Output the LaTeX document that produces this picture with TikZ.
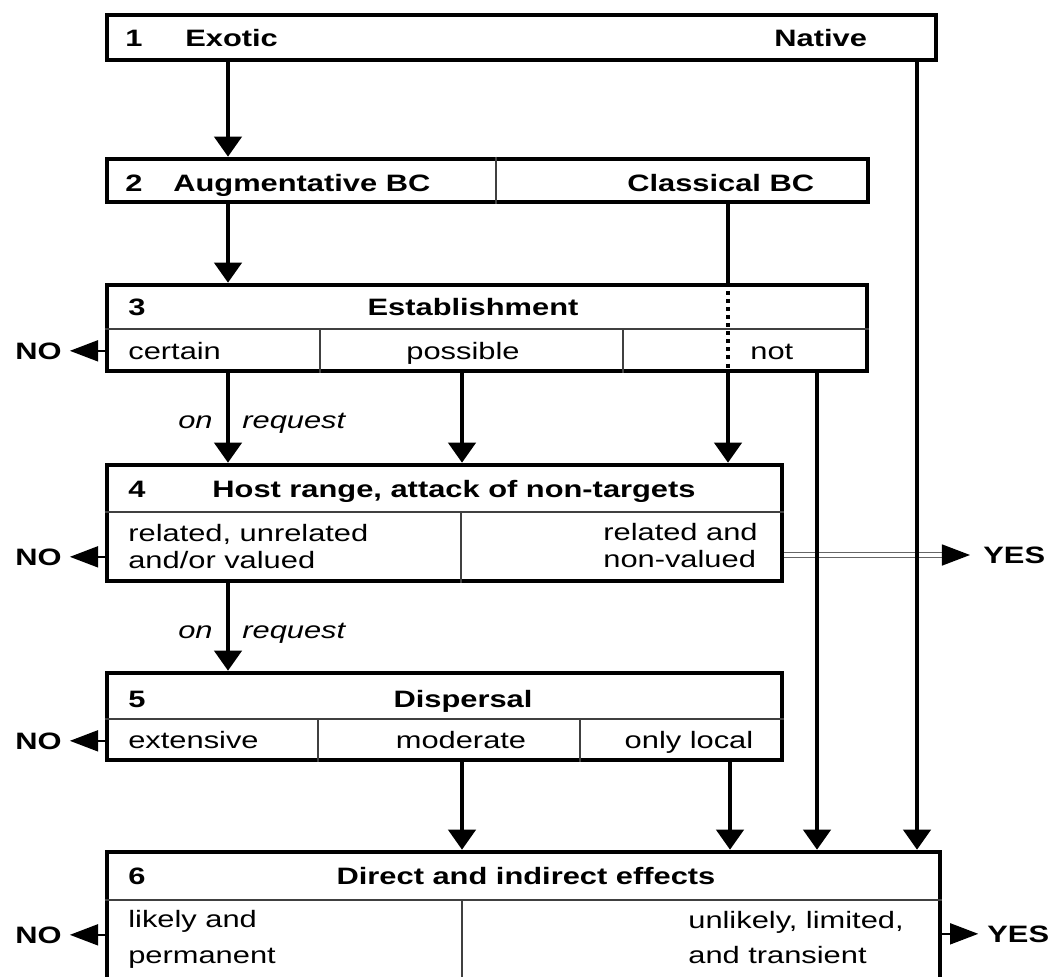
\documentclass[tikz,border=0pt]{standalone}
\usepackage{fontspec}
\setmainfont{Liberation Sans}[FakeStretch=1.3]
\usetikzlibrary{arrows.meta,fit}
\newcommand\txtsize{\fontsize{13.5pt}{16pt}\selectfont}
\tikzset{
  box/.style={draw,line width=2.6pt,inner sep=0pt},
  cell/.style={draw=black!75,line width=0.9pt},
  flow/.style={line width=2.3pt,-{Triangle[length=11.4pt,width=15.4pt]}},
  side/.style={line width=0.8pt,-{Triangle[length=16pt,width=12pt]}},
  txt/.style={inner sep=0pt,anchor=base west,font=\txtsize},
  hd/.style={txt,font=\txtsize\bfseries},
  req/.style={txt,font=\txtsize\itshape},
}
\begin{document}
\begin{tikzpicture}[x=0.02cm,y=-0.02cm]
\useasboundingbox (0,0) rectangle (1050,976);

\node[box,fit={(107,15) (936,60)}] (b1) {};
\node[box,fit={(107,159) (868,202)}] (b2) {};
\node[box,fit={(107,285) (867,371)}] (b3) {};
\node[box,fit={(107,465) (782,581)}] (b4) {};
\node[box,fit={(107,673) (782,760)}] (b5) {};
\node[box,fit={(107,852) (940,995)}] (b6) {};

\coordinate (h3) at (0,329);
\coordinate (h4) at (0,512);
\coordinate (h5) at (0,719);
\coordinate (h6) at (0,900);
\coordinate (v2) at (496,0);
\coordinate (v3a) at (320,0);
\coordinate (v3b) at (623,0);
\coordinate (v4) at (461,0);
\coordinate (v5a) at (318,0);
\coordinate (v5b) at (580,0);
\coordinate (v6) at (462,0);

\draw[cell] (b2.north -| v2) -- (b2.south -| v2);
\draw[cell] (b3.west |- h3) -- (b3.east |- h3);
\draw[cell] (h3 -| v3a) -- (b3.south -| v3a);
\draw[cell] (h3 -| v3b) -- (b3.south -| v3b);
\draw[cell] (b4.west |- h4) -- (b4.east |- h4);
\draw[cell] (h4 -| v4) -- (b4.south -| v4);
\draw[cell] (b5.west |- h5) -- (b5.east |- h5);
\draw[cell] (h5 -| v5a) -- (b5.south -| v5a);
\draw[cell] (h5 -| v5b) -- (b5.south -| v5b);
\draw[cell] (b6.west |- h6) -- (b6.east |- h6);
\draw[cell] (h6 -| v6) -- (b6.south -| v6);

% box texts
\node[hd] (n1) at (125,47) {1};
\node[hd] (exo) at (185,47) {Exotic};
\node[hd] (nat) at (774,47) {Native};
\node[hd] (n2) at (125,192) {2};
\node[hd] (aug) at (173,192) {Augmentative BC};
\node[hd] (cla) at (627,192) {Classical BC};

\node[hd] (n3) at (128,316) {3};
\node[hd,anchor=base] (est) at (473,316) {Establishment};
\node[txt] (cer) at (128,359) {certain};
\node[txt,anchor=base] (pos) at (463,359) {possible};
\node[txt] (nt) at (750,359) {not};

\node[hd] (n4) at (128,497) {4};
\node[hd,anchor=base] (hst) at (454,497) {Host range, attack of non-targets};
\node[txt] (rel1) at (128,541) {related, unrelated};
\node[txt] (rel2) at (128,568) {and/or valued};
\node[txt] (nv1) at (603,540) {related and};
\node[txt] (nv2) at (603,567) {non-valued};

\node[hd] (n5) at (128,707) {5};
\node[hd,anchor=base] (dsp) at (463,707) {Dispersal};
\node[txt] (ext) at (128,748) {extensive};
\node[txt,anchor=base] (mdr) at (461,748) {moderate};
\node[txt,anchor=base] (loc) at (689,748) {only local};

\node[hd] (n6) at (128,884) {6};
\node[hd,anchor=base] (eff) at (526,884) {Direct and indirect effects};
\node[txt] (lk1) at (128,927) {likely and};
\node[txt] (lk2) at (128,963) {permanent};
\node[txt] (ul1) at (688,928) {unlikely, limited,};
\node[txt] (ul2) at (688,963) {and transient};

% NO and YES exits
\node[hd,anchor=base east] (no3) at (62,359) {NO};
\node[hd,anchor=base east] (no4) at (62,565) {NO};
\node[hd,anchor=base east] (no5) at (62,749) {NO};
\node[hd,anchor=base east] (no6) at (62,943) {NO};
\node[hd] (yes4) at (983,563) {YES};
\node[hd] (yes6) at (987,942) {YES};
\coordinate (t4) at (970,555);

\draw[side,shorten >=4.5pt] (b3.west |- no3) -- (no3.east);
\draw[side,shorten >=4.5pt] (b4.west |- no4) -- (no4.east);
\draw[side,shorten >=4.5pt] (b5.west |- no5) -- (no5.east);
\draw[side,shorten >=4.5pt] (b6.west |- no6) -- (no6.east);
\draw[draw=black!60,line width=0.6pt,double,double distance=2.6pt] (b4.east |- t4) -- ([xshift=-15pt]t4);
\draw[side] ([xshift=-16pt]t4) -- (t4);
\draw[side,shorten >=5pt] (b6.east |- yes6) -- (yes6.west);

% flow arrows
\coordinate (xA) at (228,0);
\coordinate (xP) at (462,0);
\coordinate (xC) at (728,0);
\coordinate (xT) at (817,0);
\coordinate (xN) at (917,0);
\coordinate (xL) at (730,0);

\draw[flow] (b1.south -| xA) -- (b2.north -| xA);
\draw[flow] (b1.south -| xN) -- (b6.north -| xN);
\draw[flow] (b2.south -| xA) -- (b3.north -| xA);
\draw[line width=2.3pt] (b2.south -| xC) -- (b3.north -| xC);
\draw[line width=2.3pt,dash pattern=on 2.3pt off 2.3pt] (b3.north -| xC) -- (b3.south -| xC);
\draw[flow] (b3.south -| xC) -- (b4.north -| xC);
\draw[flow] (b3.south -| xA) -- (b4.north -| xA);
\draw[flow] (b3.south -| xP) -- (b4.north -| xP);
\draw[flow] (b3.south -| xT) -- (b6.north -| xT);
\draw[flow] (b4.south -| xA) -- (b5.north -| xA);
\draw[flow] (b5.south -| xP) -- (b6.north -| xP);
\draw[flow] (b5.south -| xL) -- (b6.north -| xL);

\node[req,anchor=base east] (on1) at (213,428) {on};
\node[req] (rq1) at (242,428) {request};
\node[req,anchor=base east] (on2) at (213,638) {on};
\node[req] (rq2) at (242,638) {request};
\end{tikzpicture}
\end{document}
